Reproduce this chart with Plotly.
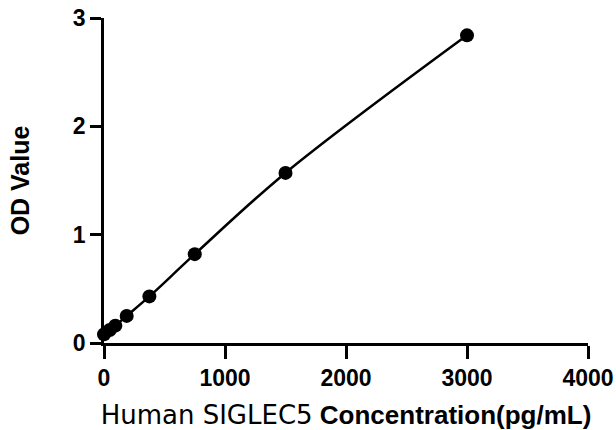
import plotly.graph_objects as go

concentration = [0, 46.875, 93.75, 187.5, 375, 750, 1500, 3000]
od_value = [0.08, 0.12, 0.16, 0.25, 0.43, 0.82, 1.57, 2.84]
x_ticks = [0, 1000, 2000, 3000, 4000]
y_ticks = [0, 1, 2, 3]

fig = go.Figure()
fig.add_trace(go.Scatter(
    x=concentration, y=od_value, mode="lines+markers",
    line=dict(color="black", width=2.5, shape="spline", smoothing=1.0),
    marker=dict(color="black", size=14),
    showlegend=False, cliponaxis=False,
))

font_family = "Liberation Sans, Arial, sans-serif"
fig.update_layout(
    width=616, height=430,
    margin=dict(l=104, r=28, t=18, b=87),
    plot_bgcolor="white", paper_bgcolor="white",
    font=dict(family=font_family, color="black"),
    xaxis=dict(
        range=[0, 4000], tickvals=x_ticks, ticktext=[str(v) for v in x_ticks],
        showline=True, linecolor="black", linewidth=2.5,
        ticks="outside", ticklen=13, tickwidth=2.5, tickcolor="black",
        showgrid=False, zeroline=False, automargin=False,
        ticklabeloverflow="allow",
        tickfont=dict(size=23, family=font_family, weight="bold"),
        title=dict(text="<span style=\"font-family:DejaVu Sans\">Human SIGLEC5</span> <b>Concentration(pg/mL)</b>",
                   font=dict(size=26, family=font_family), standoff=16),
    ),
    yaxis=dict(
        range=[0, 3], tickvals=y_ticks, ticktext=[str(v) for v in y_ticks],
        showline=True, linecolor="black", linewidth=2.5,
        ticks="outside", ticklen=11, tickwidth=2.5, tickcolor="black",
        showgrid=False, zeroline=False, automargin=False,
        ticklabeloverflow="allow",
        tickfont=dict(size=23, family=font_family, weight="bold"),
        title=dict(text="<b>OD Value</b>", font=dict(size=25, family=font_family), standoff=37),
    ),
)

fig.write_html("out.html", config={"displayModeBar": False},
               post_script="document.body.style.margin='0';")
